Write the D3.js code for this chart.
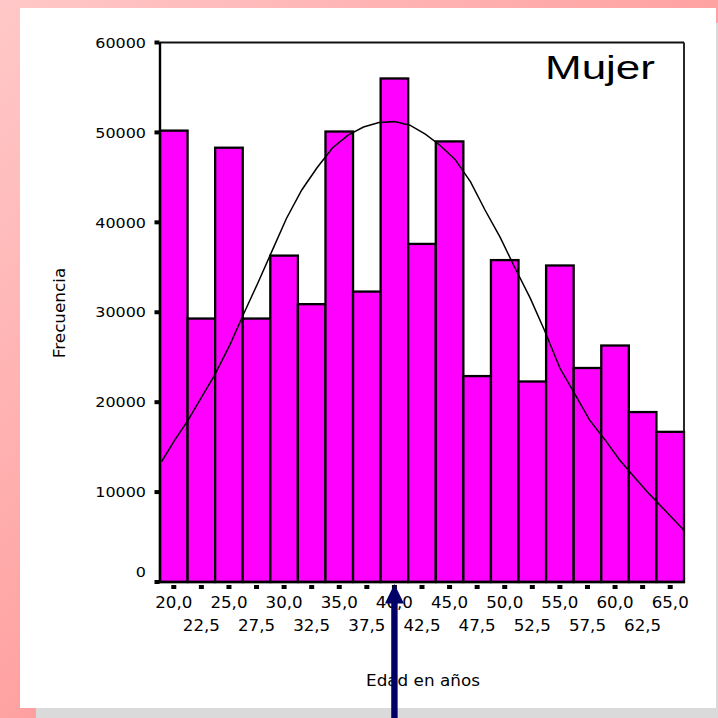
<!DOCTYPE html>
<html><head><meta charset="utf-8">
<script src="https://cdn.jsdelivr.net/npm/d3@7"></script>
<style>html,body{margin:0;padding:0;background:#fff;}svg{display:block;}</style>
</head><body>
<script>
// ---- data ----
const binCenters = [20,22.5,25,27.5,30,32.5,35,37.5,40,42.5,45,47.5,50,52.5,55,57.5,60,62.5,65];
const frequencies = [50200,29300,48300,29300,36300,30900,50100,32300,56000,37600,49000,22900,35800,22300,35200,23800,26300,18900,16700];
const curveAges = [18.9,20.1,21.3,22.4,23.7,25.1,26.4,27.6,28.9,30.2,31.6,33.0,34.4,35.8,37.2,38.6,40.0,41.4,42.8,44.1,45.5,46.9,48.2,49.6,50.9,52.3,53.6,55.0,56.4,57.7,59.1,60.4,61.8,63.1,64.5,66.2];
const curveFreqs = [13400,15800,18000,20300,23000,26400,30000,33200,36800,40400,43600,46100,48300,49700,50600,51100,51200,50800,49800,48600,47000,44500,41400,38300,35000,31600,28000,23800,20800,18000,15800,13600,11600,9800,8000,5800];
const yTickValues = [0,10000,20000,30000,40000,50000,60000];
const xLabelsUpper = ["20,0","25,0","30,0","35,0","40,0","45,0","50,0","55,0","60,0","65,0"];
const xLabelsLower = ["22,5","27,5","32,5","37,5","42,5","47,5","52,5","57,5","62,5"];
const meanAge = 40;
const title = "Mujer";
const xTitle = "Edad en años";
const yTitle = "Frecuencia";

const W = 718, H = 718;
const svg = d3.select("body").append("svg").attr("width", W).attr("height", H);
const defs = svg.append("defs");
const grad = defs.append("linearGradient").attr("id","bg").attr("x1","0").attr("y1","0").attr("x2","1").attr("y2","1");
grad.append("stop").attr("offset","0").attr("stop-color","#ffc8c8");
grad.append("stop").attr("offset","1").attr("stop-color","#ff7c7c");
svg.append("rect").attr("width",W).attr("height",H).attr("fill","url(#bg)");
// card shadow + card
svg.append("rect").attr("x",36).attr("y",23).attr("width",700).attr("height",700).attr("fill","#dadada");
svg.append("rect").attr("x",20).attr("y",8).attr("width",696).attr("height",700).attr("fill","#fff");

const x = d3.scaleLinear().domain([18.75, 66.25]).range([160, 684]);
const y = d3.scaleLinear().domain([0, 60000]).range([582, 42.5]);

const font = "'DejaVu Sans', Verdana, sans-serif";
function stretch(sel, k){
  sel.each(function(){
    const w = this.getComputedTextLength();
    d3.select(this).attr("textLength", w*k).attr("lengthAdjust","spacingAndGlyphs");
  });
}

// bars
svg.append("g").selectAll("rect").data(binCenters).join("rect")
  .attr("x", (d)=>x(d-1.25)).attr("width", (d)=>x(d+1.25)-x(d-1.25))
  .attr("y", (d,i)=>y(frequencies[i])).attr("height", (d,i)=>y(0)-y(frequencies[i]))
  .attr("fill","#ff00ff").attr("stroke","#000").attr("stroke-width",2.3);

// normal curve
const pts = curveAges.map((a,i)=>[x(a), y(curveFreqs[i])]);
svg.append("path").attr("d", d3.line()(pts)).attr("fill","none").attr("stroke","#000").attr("stroke-width",1.5);

// frame
svg.append("line").attr("x1",x(18.75)).attr("x2",x(66.25)).attr("y1",y(60000)).attr("y2",y(60000)).attr("stroke","#111").attr("stroke-width",1.8);
svg.append("line").attr("x1",x(66.25)).attr("x2",x(66.25)).attr("y1",y(60000)).attr("y2",y(0)).attr("stroke","#111").attr("stroke-width",1.8);
svg.append("line").attr("x1",x(18.75)).attr("x2",x(18.75)).attr("y1",y(60000)-0.5).attr("y2",y(0)+1).attr("stroke","#000").attr("stroke-width",2.4);
svg.append("line").attr("x1",x(18.75)-2).attr("x2",x(66.25)+1).attr("y1",y(0)).attr("y2",y(0)).attr("stroke","#000").attr("stroke-width",2.4);

// y ticks + labels
svg.append("g").selectAll("rect").data(yTickValues).join("rect")
  .attr("x", x(18.75)-5.5).attr("y", (d)=>y(d)-2).attr("width",5).attr("height",4).attr("fill","#000");
const yl = svg.append("g").selectAll("text").data(yTickValues).join("text")
  .attr("x", 146).attr("y", (d)=>y(d) + (d===0 ? -10 : 0)).attr("dy","0.36em")
  .attr("text-anchor","end").attr("font-family",font).attr("font-size",14.5).attr("fill","#000")
  .text((d)=>String(d));
stretch(yl, 1.1);

// x ticks
svg.append("g").selectAll("rect").data(binCenters).join("rect")
  .attr("x",(d)=>x(d)-2.5).attr("y", y(0)+3).attr("width",5).attr("height",4).attr("fill","#000");
const upperAges = binCenters.filter((d,i)=>i%2===0);
const lowerAges = binCenters.filter((d,i)=>i%2===1);
const xu = svg.append("g").selectAll("text").data(upperAges).join("text")
  .attr("x",(d)=>x(d)).attr("y",607.5).attr("text-anchor","middle")
  .attr("font-family",font).attr("font-size",15).attr("fill","#000").text((d,i)=>xLabelsUpper[i]);
stretch(xu, 1.11);
const xlw = svg.append("g").selectAll("text").data(lowerAges).join("text")
  .attr("x",(d)=>x(d)).attr("y",631).attr("text-anchor","middle")
  .attr("font-family",font).attr("font-size",15).attr("fill","#000").text((d,i)=>xLabelsLower[i]);
stretch(xlw, 1.11);

// titles
svg.append("text").attr("x",545).attr("y",79.3).attr("font-family","'Liberation Sans', Arial, sans-serif")
  .attr("font-size",33).attr("fill","#000").attr("textLength",110).attr("lengthAdjust","spacingAndGlyphs").text(title);
const xt = svg.append("text").attr("x",423).attr("y",686).attr("text-anchor","middle")
  .attr("font-family",font).attr("font-size",15).attr("fill","#000").text(xTitle);
stretch(xt, 1.12);
const yt = svg.append("text").attr("transform","translate(65,313) rotate(-90)").attr("text-anchor","middle")
  .attr("font-family",font).attr("font-size",15).attr("fill","#000").text(yTitle);
stretch(yt, 1.12);

// arrow pointing at the mean
const ax = x(meanAge);
svg.append("rect").attr("x",ax-3.2).attr("y",600).attr("width",6.4).attr("height",H-600).attr("fill","#000066");
svg.append("path").attr("d", `M${ax},584 L${ax-9.5},603.5 L${ax+9.5},603.5 Z`).attr("fill","#000066");
</script>
</body></html>
